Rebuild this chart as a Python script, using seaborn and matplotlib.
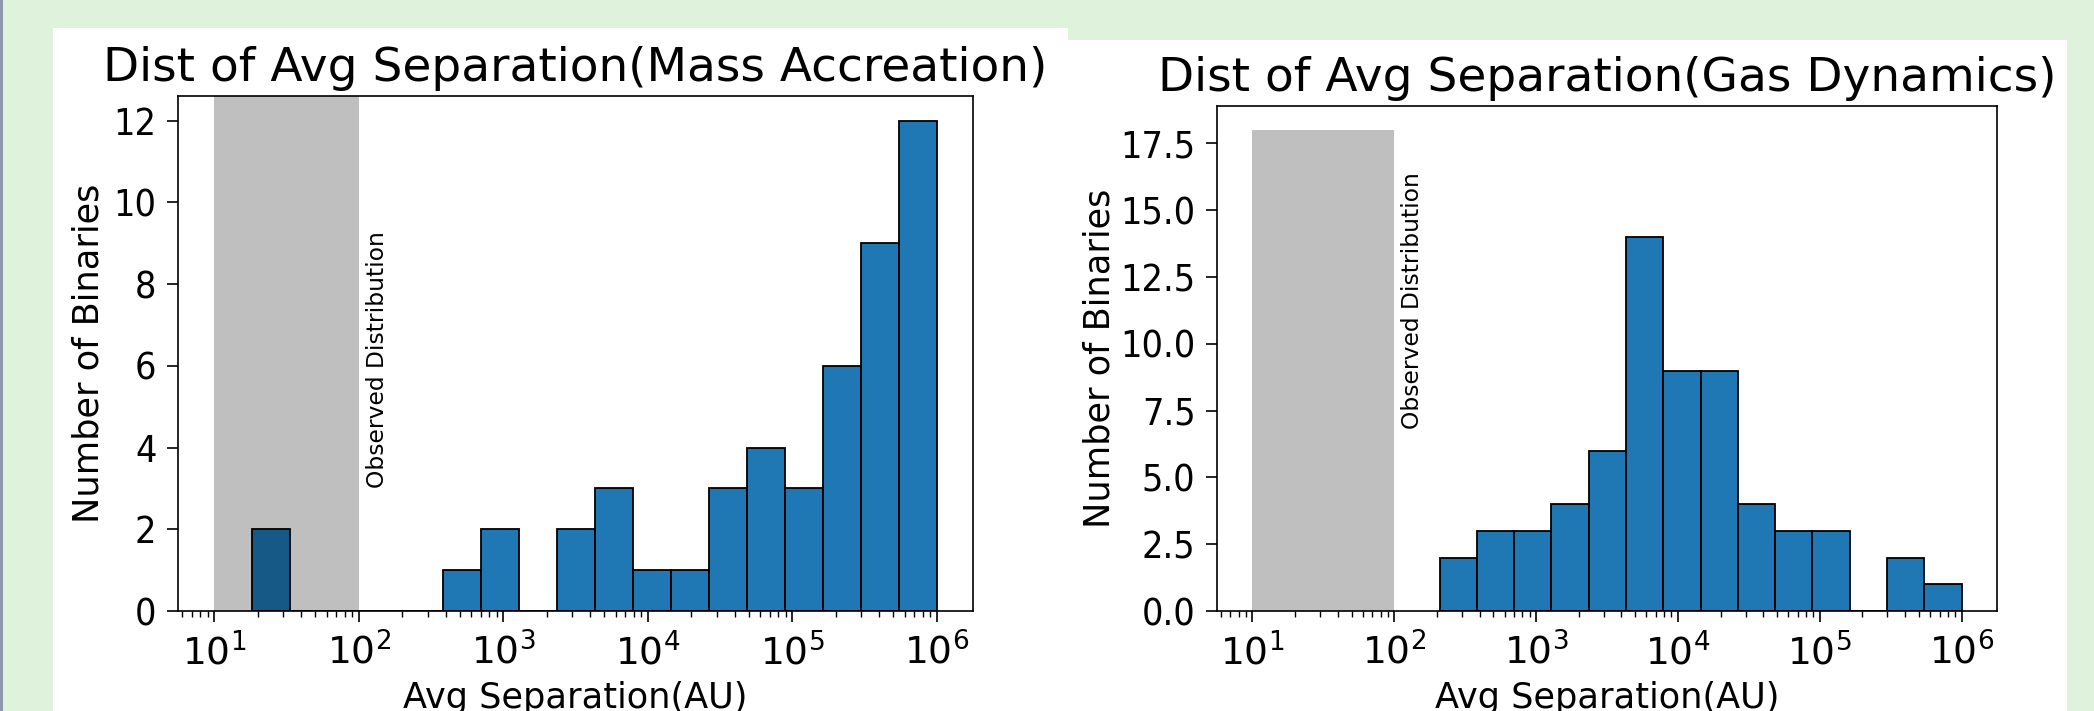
import numpy as np
import seaborn as sns
import matplotlib.pyplot as plt
from matplotlib.patches import Rectangle
from matplotlib.ticker import MultipleLocator, FormatStrFormatter

# histogram bins in log10(AU) and counts
mass_lo, mass_hi, mass_nbins = 1.265, 6.0, 18
mass_counts = [2, 0, 0, 0, 0, 1, 2, 0, 2, 3, 1, 1, 3, 4, 3, 6, 9, 12]

gas_lo, gas_hi, gas_nbins = 2.32, 6.0, 14
gas_counts = [2, 3, 3, 4, 6, 14, 9, 9, 4, 3, 3, 0, 2, 1]

obs_range = [10, 100]   # observed distribution, AU
obs_height = 18         # height of the grey block in the right panel

W, H = 2094, 711
green = '#dff3dc'


def frac(x0, y0, x1, y1):
    # pixel box (top-left origin) -> figure fraction [left, bottom, width, height]
    return [x0 / W, 1 - y1 / H, (x1 - x0) / W, (y1 - y0) / H]


def centres(lo, hi, n):
    edges = np.linspace(lo, hi, n + 1)
    return 10 ** ((edges[:-1] + edges[1:]) / 2)


fig = plt.figure(figsize=(W / 100, H / 100), dpi=100, facecolor=green)
for box in [(53, 28, 1068, 711), (1068, 40, 2067, 711)]:
    l, b, w, h = frac(*box)
    fig.add_artist(Rectangle((l, b), w, h, transform=fig.transFigure,
                             facecolor='white', edgecolor='none', zorder=0))
l, b, w, h = frac(0, 0, 3, 711)
fig.add_artist(Rectangle((l, b), w, h, transform=fig.transFigure,
                         facecolor='#8e97ab', edgecolor='none', zorder=0))

ax1 = fig.add_axes(frac(178, 96, 973, 611))
ax2 = fig.add_axes(frac(1217, 106, 1997, 611))

sns.histplot(x=centres(mass_lo, mass_hi, mass_nbins), weights=mass_counts,
             bins=mass_nbins, binrange=(mass_lo, mass_hi), log_scale=True,
             color='#1f77b4', edgecolor='black', linewidth=1.3, alpha=1, ax=ax1)
ax1.axvspan(obs_range[0], obs_range[1], color='k', alpha=0.25, linewidth=0)
ax1.text(113, 3, 'Observed Distribution', rotation=90, fontsize=16.8,
         ha='left', va='bottom')
ax1.set_title('Dist of Avg Separation(Mass Accreation)', fontsize=33.8, pad=11)
ax1.yaxis.set_major_locator(MultipleLocator(2))
ax1.yaxis.set_label_coords(-0.0906, 0.5)

sns.histplot(x=centres(gas_lo, gas_hi, gas_nbins), weights=gas_counts,
             bins=gas_nbins, binrange=(gas_lo, gas_hi), log_scale=True,
             color='#1f77b4', edgecolor='black', linewidth=1.3, alpha=1, ax=ax2)
ax2.fill_between(obs_range, 0, obs_height, color='k', alpha=0.25, linewidth=0)
ax2.text(111, 6.8, 'Observed Distribution', rotation=90, fontsize=16.8,
         ha='left', va='bottom')
ax2.set_title('Dist of Avg Separation(Gas Dynamics)', fontsize=33.8, pad=11)
ax2.yaxis.set_major_locator(MultipleLocator(2.5))
ax2.yaxis.set_major_formatter(FormatStrFormatter('%.1f'))
ax2.yaxis.set_label_coords(-0.1287, 0.5)

for ax in (ax1, ax2):
    ax.set_facecolor('white')
    ax.set_xlabel('Avg Separation(AU)', fontsize=25.3, labelpad=6.5)
    ax.set_ylabel('Number of Binaries', fontsize=25.3)
    ax.tick_params(which='major', length=8, width=1.2, pad=7.5, labelsize=27)
    ax.tick_params(which='minor', length=4.3, width=1.0)
    # the screenshot squeezes the y tick numbers sideways
    for lbl in ax.get_yticklabels():
        lbl.set_fontstretch('condensed')
    for s in ax.spines.values():
        s.set_linewidth(1.2)

fig.savefig('out.png', dpi=100, facecolor=green)
